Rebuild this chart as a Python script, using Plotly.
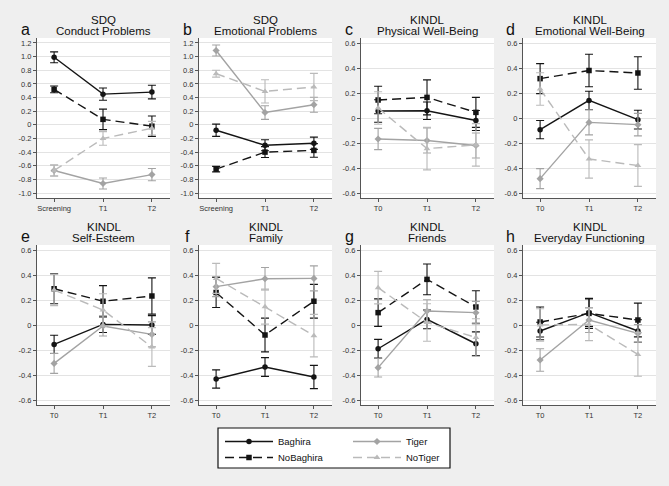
import plotly.graph_objects as go

# ---------------- data ----------------
sdq_x = ["Screening", "T1", "T2"]
kindl_x = ["T0", "T1", "T2"]

sdq_ticks = [1.2, 1.0, 0.8, 0.6, 0.4, 0.2, 0.0, -0.2, -0.4, -0.6, -0.8, -1.0]
sdq_ticktext = ["1.2", "1.0", "0.8", "0.6", "0.4", "0.2", "0", "-0.2", "-0.4", "-0.6", "-0.8", "-1.0"]
kindl_ticks = [0.6, 0.4, 0.2, 0.0, -0.2, -0.4, -0.6]
kindl_ticktext = ["0.6", "0.4", "0.2", "0", "-0.2", "-0.4", "-0.6"]

letters = ["a", "b", "c", "d", "e", "f", "g", "h"]
title_top = ["SDQ", "SDQ", "KINDL", "KINDL", "KINDL", "KINDL", "KINDL", "KINDL"]
title_bottom = ["Conduct Problems", "Emotional Problems", "Physical Well-Being",
                "Emotional Well-Being", "Self-Esteem", "Family", "Friends",
                "Everyday Functioning"]

# means per panel (a..h), order of time points as in x labels
baghira_mean = [[0.99, 0.45, 0.48], [-0.08, -0.30, -0.27], [0.056, 0.058, -0.02],
                [-0.093, 0.141, -0.013], [-0.155, 0.005, 0.0], [-0.432, -0.336, -0.416],
                [-0.19, 0.045, -0.15], [-0.048, 0.099, -0.048]]
baghira_err = [[0.08, 0.09, 0.10], [0.09, 0.08, 0.09], [0.09, 0.07, 0.08],
               [0.073, 0.073, 0.075], [0.073, 0.065, 0.075], [0.073, 0.075, 0.093],
               [0.075, 0.075, 0.095], [0.07, 0.11, 0.09]]

nobaghira_mean = [[0.52, 0.08, -0.02], [-0.65, -0.40, -0.375], [0.144, 0.165, 0.045],
                  [0.315, 0.38, 0.36], [0.29, 0.19, 0.232], [0.26, -0.08, 0.19],
                  [0.099, 0.365, 0.144], [0.024, 0.093, 0.04]]
nobaghira_err = [[0.05, 0.15, 0.15], [0.04, 0.08, 0.10], [0.11, 0.14, 0.12],
                 [0.12, 0.13, 0.13], [0.12, 0.125, 0.145], [0.12, 0.135, 0.135],
                 [0.11, 0.123, 0.13], [0.12, 0.12, 0.135]]

tiger_mean = [[-0.67, -0.86, -0.73], [1.09, 0.18, 0.295], [-0.168, -0.18, -0.22],
              [-0.485, -0.035, -0.053], [-0.307, -0.008, -0.075], [0.307, 0.37, 0.373],
              [-0.341, 0.112, 0.099], [-0.28, 0.04, -0.067]]
tiger_err = [[0.08, 0.08, 0.09], [0.08, 0.10, 0.11], [0.085, 0.10, 0.10],
             [0.08, 0.10, 0.09], [0.08, 0.08, 0.10], [0.08, 0.09, 0.10],
             [0.075, 0.09, 0.09], [0.09, 0.10, 0.07]]

notiger_mean = [[-0.67, -0.20, -0.05], [0.75, 0.49, 0.555], [0.08, -0.245, -0.215],
                [0.232, -0.328, -0.38], [0.28, 0.12, -0.176], [0.373, 0.147, -0.085],
                [0.299, 0.02, -0.10], [0.0, 0.005, -0.235]]
notiger_err = [[0.08, 0.10, 0.10], [0.05, 0.17, 0.20], [0.13, 0.17, 0.17],
               [0.13, 0.153, 0.167], [0.125, 0.13, 0.155], [0.12, 0.14, 0.17],
               [0.13, 0.15, 0.15], [0.13, 0.13, 0.175]]

# ---------------- styling ----------------
W, H = 669, 486
BG = "#efefef"
FONT = "Liberation Sans, Arial, sans-serif"
col_left = [37, 199, 361, 523]
panel_w = 133
row_top = [38, 245]
panel_h = 160

groups = [
    ("Baghira", baghira_mean, baghira_err, "#141414", "solid", "circle", "legend"),
    ("NoBaghira", nobaghira_mean, nobaghira_err, "#141414", "9px,5px", "square", "legend2"),
    ("Tiger", tiger_mean, tiger_err, "#a3a3a3", "solid", "diamond", "legend3"),
    ("NoTiger", notiger_mean, notiger_err, "#bababa", "9px,5px", "triangle-up", "legend4"),
]

fig = go.Figure()
annotations = []

for i in range(8):
    r, c = divmod(i, 4)
    ax = "" if i == 0 else str(i + 1)
    xs = sdq_x if i < 2 else kindl_x
    x0 = col_left[c] / W
    x1 = (col_left[c] + panel_w) / W
    y1 = 1 - row_top[r] / H
    y0 = 1 - (row_top[r] + panel_h) / H

    for name, mean, err, color, dash, sym, lg in groups:
        fig.add_trace(go.Scatter(
            x=xs, y=mean[i], mode="lines+markers", name=name,
            xaxis="x" + ax, yaxis="y" + ax,
            line=dict(color=color, width=1.4, dash=dash),
            marker=dict(color=color, symbol=sym, size=5.5 if sym != "triangle-up" else 6),
            error_y=dict(type="data", array=err[i], color=color, thickness=1.1, width=4),
            showlegend=(i == 0), legend=lg,
        ))

    if i < 2:
        yr, tv, tt = [-1.073, 1.273], sdq_ticks, sdq_ticktext
    else:
        yr, tv, tt = [-0.64, 0.64], kindl_ticks, kindl_ticktext

    fig.update_layout(**{
        "xaxis" + ax: dict(domain=[x0, x1], anchor="y" + ax, type="category",
                           range=[-0.35, 2.37], showgrid=False, zeroline=False,
                           showline=True, linecolor="#555", linewidth=1,
                           ticks="outside", ticklen=3, tickcolor="#555",
                           tickfont=dict(size=7.5, color="#333", family=FONT)),
        "yaxis" + ax: dict(domain=[y0, y1], anchor="x" + ax, range=yr,
                           tickvals=tv, ticktext=tt, showgrid=True,
                           gridcolor="#e3e3e3", gridwidth=1, zeroline=False,
                           showline=True, linecolor="#555", linewidth=1,
                           ticks="outside", ticklen=3, tickcolor="#555",
                           tickfont=dict(size=7.5, color="#333", family=FONT)),
    })

    cx = (col_left[c] + panel_w / 2) / W
    ty = row_top[r]
    annotations.append(dict(text=title_top[i], x=cx, y=1 - (ty - 18) / H, xref="paper",
                            yref="paper", showarrow=False, xanchor="center", yanchor="middle",
                            font=dict(size=11.5, color="#111", family=FONT)))
    annotations.append(dict(text=title_bottom[i], x=cx, y=1 - (ty - 6.5) / H, xref="paper",
                            yref="paper", showarrow=False, xanchor="center", yanchor="middle",
                            font=dict(size=11.5, color="#111", family=FONT)))
    annotations.append(dict(text=letters[i], x=(col_left[c] - 12) / W, y=1 - (ty - 9) / H,
                            xref="paper", yref="paper", showarrow=False, xanchor="center",
                            yanchor="middle", font=dict(size=16, color="#111", family=FONT)))

    # white plot background
    fig.add_shape(type="rect", xref="paper", yref="paper", x0=x0, x1=x1, y0=y0, y1=y1,
                  fillcolor="white", line=dict(width=0), layer="below")

# legend frame
fig.add_shape(type="rect", xref="paper", yref="paper",
              x0=218 / W, x1=450 / W, y0=1 - 468 / H, y1=1 - 428 / H,
              fillcolor="white", line=dict(color="#111", width=1.2), layer="below")

leg_common = dict(bgcolor="rgba(0,0,0,0)", borderwidth=0,
                  font=dict(size=9.5, color="#111", family=FONT),
                  orientation="v", xanchor="left", yanchor="top", itemwidth=48)
fig.update_layout(
    width=W, height=H, margin=dict(l=0, r=0, t=0, b=0),
    paper_bgcolor=BG, plot_bgcolor="white",
    annotations=annotations,
    legend=dict(x=220 / W, y=1 - 427 / H, **leg_common),
    legend2=dict(x=220 / W, y=1 - 443 / H, **leg_common),
    legend3=dict(x=348 / W, y=1 - 427 / H, **leg_common),
    legend4=dict(x=348 / W, y=1 - 443 / H, **leg_common),
    font=dict(family=FONT),
)

fig.write_html("out.html")
